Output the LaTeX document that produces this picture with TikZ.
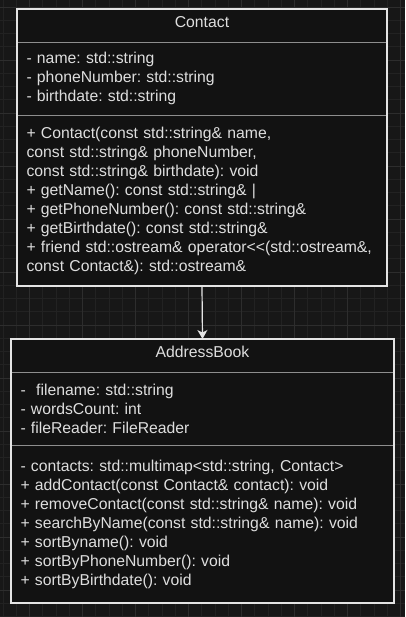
\documentclass[tikz,border=0pt]{standalone}
\usepackage{fontspec}
\setmainfont{Liberation Sans}
\usepackage{tikz}
\usetikzlibrary{positioning,arrows.meta}
\definecolor{canvasBg}{HTML}{171717}
\definecolor{classFill}{HTML}{121212}
\definecolor{gridMinorCol}{HTML}{222222}
\definecolor{gridMajorCol}{HTML}{2D2D2D}
\definecolor{frameCol}{HTML}{E4E4E4}
\definecolor{sepCol}{HTML}{8E8E8E}
\definecolor{textCol}{HTML}{DEDEDE}
\tikzset{
   umlFont/.style={font={\fontsize{15.75}{19}\selectfont\frenchspacing}, text=textCol},
}

\begin{document}
\begin{tikzpicture}[x=1pt,y=-1pt]
  \tikzstyle{classTitle} = [umlFont, fill=classFill, draw=sepCol, rectangle, outer sep=0pt, minimum height=33pt, text depth=7pt]
  \tikzstyle{classPart} = [umlFont, fill=classFill, draw=sepCol, rectangle, outer sep=0pt, inner xsep=9.5pt, align=left]
  \tikzstyle{classFrame} = [draw=frameCol, line width=1.5pt]
  \tikzstyle{gridMinor} = [gridMinorCol, line width=0.8pt]
  \tikzstyle{gridMajor} = [gridMajorCol, line width=0.8pt]
  \tikzstyle{useEdge} = [frameCol, line width=1.2pt, -{Stealth[length=9pt,width=10pt,inset=2.5pt]}]

  \useasboundingbox (0,0) rectangle (405,617);
  \fill[canvasBg] (0,0) rectangle (405,617);
  % grid
  \foreach \i in {0,...,30} \draw[gridMinor] ({3+13.25*\i},0) -- ({3+13.25*\i},617);
  \foreach \i in {0,...,46} \draw[gridMinor] (0,{7+13.25*\i}) -- (405,{7+13.25*\i});
  \foreach \i in {0,...,7} \draw[gridMajor] ({29.5+53*\i},0) -- ({29.5+53*\i},617);
  \foreach \i in {0,...,11} \draw[gridMajor] (0,{7+53*\i}) -- (405,{7+53*\i});

  % Contact
  \node[classTitle, anchor=north west, minimum width=370pt] (contactTitle) at (17,9) {Contact};
  \node[classPart, below=0pt of contactTitle, text width=351pt, minimum height=73pt] (contactAttr)
    {- name: std::string\\
     - phoneNumber: std::string\\
     - birthdate: std::string};
  \node[classPart, below=0pt of contactAttr, text width=351pt, minimum height=171pt] (contactOps)
    {+ Contact(const std::string\& name,\\
     const std::string\& phoneNumber,\\
     const std::string\& birthdate): void\\
     + getName(): const std::string\& |\\
     + getPhoneNumber(): const std::string\&\\
     + getBirthdate(): const std::string\&\\
     + friend std::ostream\& operator<\kern0pt<(std::ostream\&,\\
     const Contact\&): std::ostream\&};
  \draw[classFrame] (contactTitle.north west) rectangle (contactOps.south east);

  % AddressBook
  \node[classTitle, anchor=north west, minimum width=383pt] (bookTitle) at (11,339) {AddressBook};
  \node[classPart, below=0pt of bookTitle, text width=364pt, minimum height=73pt] (bookAttr)
    {-\ \ filename: std::string\\
     - wordsCount: int\\
     - fileReader: FileReader};
  \node[classPart, below=0pt of bookAttr, text width=364pt, minimum height=158pt] (bookOps)
    {- contacts: std::multimap<std::string, Contact>\\
     + addContact(const Contact\& contact): void\\
     + removeContact(const std::string\& name): void\\
     + searchByName(const std::string\& name): void\\
     + sortByname(): void\\
     + sortByPhoneNumber(): void\\
     + sortByBirthdate(): void};
  \draw[classFrame] (bookTitle.north west) rectangle (bookOps.south east);

  \draw[useEdge] (contactOps.south) -- (bookTitle.north);
\end{tikzpicture}
\end{document}
